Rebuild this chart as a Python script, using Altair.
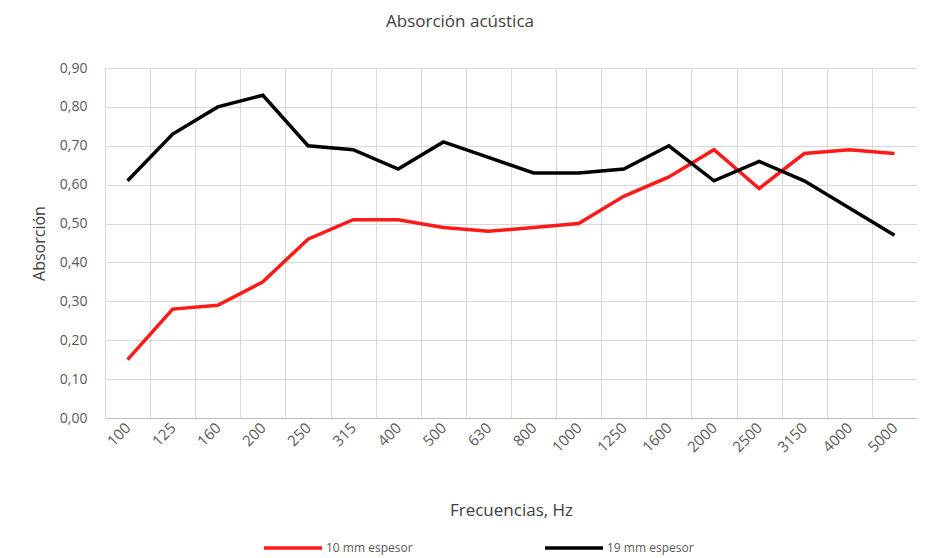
import altair as alt
import pandas as pd

freqs = ["100", "125", "160", "200", "250", "315", "400", "500", "630", "800",
         "1000", "1250", "1600", "2000", "2500", "3150", "4000", "5000"]
series_names = ["10 mm espesor", "19 mm espesor"]
vals_10 = [0.15, 0.28, 0.29, 0.35, 0.46, 0.51, 0.51, 0.49, 0.48, 0.49,
           0.50, 0.57, 0.62, 0.69, 0.59, 0.68, 0.69, 0.68]
vals_19 = [0.61, 0.73, 0.80, 0.83, 0.70, 0.69, 0.64, 0.71, 0.67, 0.63,
           0.63, 0.64, 0.70, 0.61, 0.66, 0.61, 0.54, 0.47]
colors = ["#ff1a1a", "#000000"]

rows = []
for i, f in enumerate(freqs):
    rows.append({"freq": f, "serie": series_names[0], "val": vals_10[i], "ord": i})
    rows.append({"freq": f, "serie": series_names[1], "val": vals_19[i], "ord": i})
df = pd.DataFrame(rows)

FONT = "Open Sans"
GRAY = "#595959"

x_scale = alt.Scale(domain=freqs, paddingInner=0, paddingOuter=0)
y_scale = alt.Scale(domain=[0, 0.9], nice=False)

lines = alt.Chart(df).mark_line(strokeWidth=3.5).encode(
    x=alt.X("freq:N", scale=x_scale, sort=freqs,
            axis=alt.Axis(title="Frecuencias, Hz", labelAngle=-45, labelAlign="right",
                          labelBaseline="middle", labelPadding=7, labelFontSize=15,
                          labelColor=GRAY, titleFontSize=17, titleColor="#404040",
                          titleFontWeight="normal", titlePadding=48, titleFont=FONT,
                          labelFont=FONT, grid=True, tickBand="extent", ticks=False,
                          gridColor="#d9d9d9", domainColor="#bfbfbf",
                          labelOverlap=False, labelBound=False,
                          orient="bottom")),
    y=alt.Y("val:Q", scale=y_scale,
            axis=alt.Axis(title="Absorción", values=[i / 10 for i in range(10)],
                          labelExpr="replace(format(datum.value, '.2f'), '.', ',')",
                          labelFontSize=14, labelColor=GRAY, labelPadding=18,
                          titleFontSize=16, titleColor="#404040", titleFontWeight="normal",
                          titleFont=FONT, labelFont=FONT, titlePadding=12,
                          grid=True, gridColor="#d9d9d9", domain=False, ticks=False)),
    color=alt.Color("serie:N", scale=alt.Scale(domain=series_names, range=colors),
                    legend=alt.Legend(title=None, orient="none", direction="horizontal",
                                      legendX=157, legendY=449, symbolType="stroke",
                                      symbolSize=3364, symbolStrokeWidth=3.5,
                                      labelFontSize=12, labelColor=GRAY, labelFont=FONT,
                                      columnPadding=125, labelOffset=2)),
    order="ord:Q",
)

chart = lines.properties(
    width=812, height=350,
    autosize=alt.AutoSizeParams(type="none"),
    padding={"left": 97, "top": 60, "right": 0, "bottom": 138},
    title=alt.TitleParams("Absorción acústica", fontSize=17, font=FONT,
                          fontWeight="normal", color="#404040", dx=-51, offset=30),
).configure_view(stroke="#d9d9d9").configure(background="white")

chart.save("out.html", embed_options={"renderer": "svg", "actions": False})
